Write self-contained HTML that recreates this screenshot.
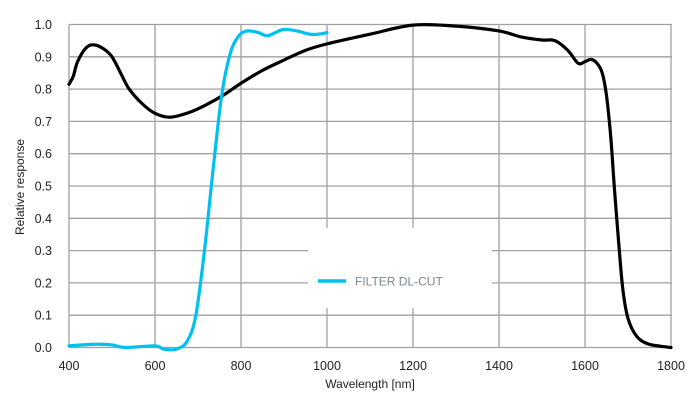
<!DOCTYPE html>
<html><head><meta charset="utf-8"><style>
html,body{margin:0;padding:0;background:#fff;}
svg{display:block;font-family:"Liberation Sans",Arial,sans-serif;}
</style></head><body>
<svg id="s" width="700" height="413" viewBox="0 0 700 413" xmlns="http://www.w3.org/2000/svg">
<g id="grid" stroke="#a0a0a0" stroke-width="1.3"></g>
<rect x="308" y="228" width="184" height="80" fill="#fff"/>
<g id="lbl" font-size="12.5" fill="#222"></g>
<text x="370" y="388" font-size="12" fill="#222" text-anchor="middle">Wavelength [nm]</text>
<text transform="translate(24,187) rotate(-90)" font-size="12" fill="#222" text-anchor="middle">Relative response</text>
<path id="blk" fill="none" stroke="#000" stroke-width="3.2" stroke-linejoin="round" stroke-linecap="round"/>
<path id="blu" fill="none" stroke="#00c0f0" stroke-width="3.2" stroke-linejoin="round" stroke-linecap="round"/>
<line x1="318" y1="281" x2="346" y2="281" stroke="#00c0f0" stroke-width="3.5"/>
<text x="355" y="285.5" font-size="12" fill="#7a8a96">FILTER DL-CUT</text>
</svg>
<script>
var X=function(w){return 69+(w-400)*0.43},Y=function(r){return 347.5-r*323};
var g=document.getElementById('grid'),l=document.getElementById('lbl'),ns='http://www.w3.org/2000/svg';
function el(p,t,a,txt){var e=document.createElementNS(ns,t);for(var k in a)e.setAttribute(k,a[k]);if(txt)e.textContent=txt;p.appendChild(e);}
for(var i=0;i<=10;i++){var y=Y(i/10);el(g,'line',{x1:69,x2:672,y1:y,y2:y});el(l,'text',{x:52,y:y+4.5,'text-anchor':'end'},(i/10).toFixed(1));}
for(var w=400;w<=1800;w+=200){var x=X(w);el(g,'line',{x1:x,x2:x,y1:Y(1),y2:Y(0)});el(l,'text',{x:x,y:370,'text-anchor':'middle'},String(w));}
function path(pts){pts=pts.map(function(p){return[X(p[0]),Y(p[1])]});var d='M'+pts[0][0]+','+pts[0][1];
for(var i=0;i<pts.length-1;i++){var p0=pts[i-1]||pts[i],p1=pts[i],p2=pts[i+1],p3=pts[i+2]||p2;
d+=' C'+(p1[0]+(p2[0]-p0[0])/6)+','+(p1[1]+(p2[1]-p0[1])/6)+' '+(p2[0]-(p3[0]-p1[0])/6)+','+(p2[1]-(p3[1]-p1[1])/6)+' '+p2[0]+','+p2[1];}return d;}
document.getElementById('blk').setAttribute('d',path([[400,0.815],[410,0.84],[420,0.885],[440,0.928],[458,0.937],[480,0.925],[500,0.9],[520,0.85],[540,0.8],[570,0.755],[600,0.725],[635,0.713],[680,0.728],[720,0.752],[760,0.782],[800,0.818],[850,0.858],[900,0.89],[950,0.92],[1000,0.94],[1100,0.97],[1200,0.998],[1300,0.995],[1400,0.98],[1450,0.962],[1500,0.952],[1530,0.95],[1560,0.92],[1584,0.88],[1600,0.885],[1614,0.892],[1628,0.88],[1640,0.85],[1650,0.78],[1660,0.65],[1668,0.5],[1678,0.33],[1688,0.18],[1700,0.09],[1720,0.035],[1745,0.012],[1775,0.004],[1800,0]]));
document.getElementById('blu').setAttribute('d',path([[400,0.005],[460,0.01],[500,0.008],[530,0.0],[600,0.005],[620,-0.005],[650,-0.005],[675,0.02],[695,0.1],[715,0.3],[735,0.55],[755,0.78],[775,0.91],[795,0.965],[815,0.98],[840,0.975],[860,0.965],[880,0.975],[900,0.985],[930,0.98],[960,0.97],[980,0.97],[1000,0.975]]));
</script>
</body></html>
